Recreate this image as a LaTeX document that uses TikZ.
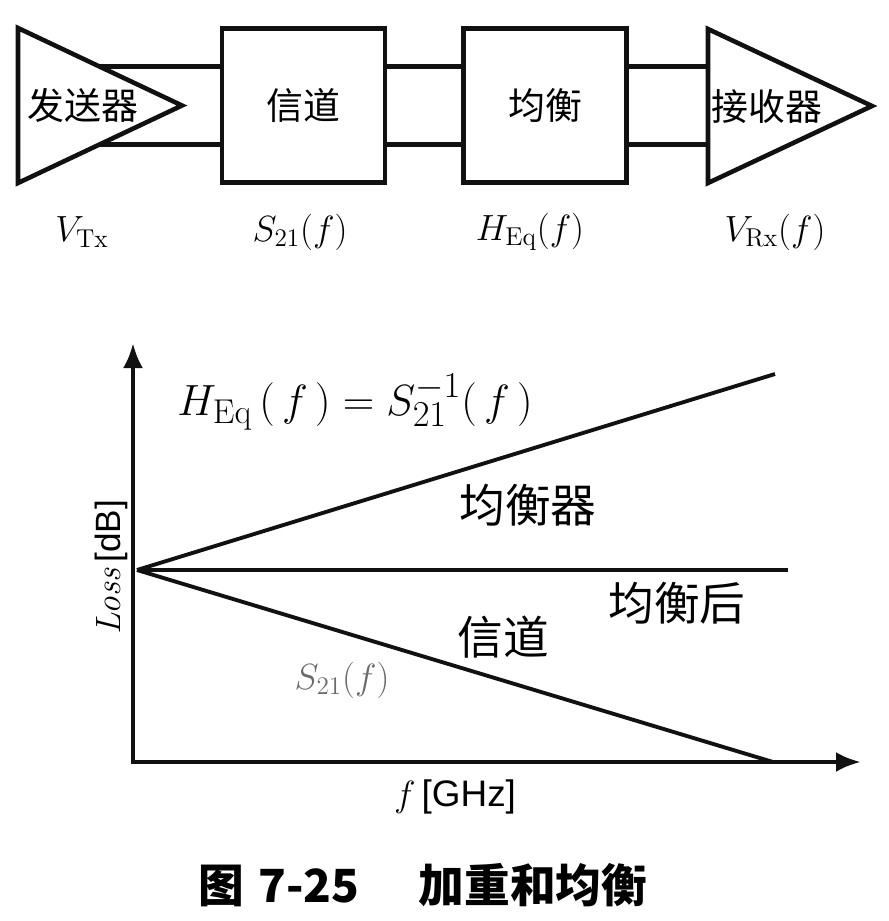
\documentclass[tikz,border=0pt]{standalone}
\usepackage{fontspec}
\setsansfont{Liberation Sans}
\newfontfamily\cjk{Noto Sans CJK SC}
\usetikzlibrary{arrows.meta,calc}
\definecolor{ink}{HTML}{111111}
\definecolor{faded}{HTML}{6A6A6A}

\begin{document}
\begin{tikzpicture}[x=0.02cm,y=-0.02cm,
          blk/.style={draw=ink,line width=2.6pt,minimum width=3.26cm,minimum height=3.08cm,
            font=\cjk\fontsize{21}{24}\selectfont},
          wire/.style={ink,line width=2.6pt},
          amp/.style={draw=ink,line width=2.6pt,line join=miter},
          lbl/.style={font=\fontsize{21}{24}\selectfont},
          curve/.style={ink,line width=2.2pt},
          axis/.style={ink,line width=2.6pt,{Latex[length=0.5cm,width=0.4cm]}-{Latex[length=0.5cm,width=0.4cm]}},
          cjklbl/.style={font=\cjk\fontsize{26}{30}\selectfont}]
        \useasboundingbox (0,0) rectangle (889,921);
        % transmitter -> channel -> equalizer -> receiver
        \coordinate (tx1) at (18,28);
        \coordinate (tx2) at (182,105.5);
        \coordinate (tx3) at (18,183);
        \coordinate (rx1) at (708,29);
        \coordinate (rx2) at (872,106);
        \coordinate (rx3) at (708,183);
        \coordinate (txu) at ($(tx1)!0.5!(tx2)$);
        \coordinate (txl) at ($(tx3)!0.5!(tx2)$);
        \coordinate (rxu) at (708,66.75);
        \coordinate (rxl) at (708,144.25);
        \draw[amp] (tx1) -- (tx2) -- (tx3) -- cycle;
        \draw[amp] (rx1) -- (rx2) -- (rx3) -- cycle;
        \node[blk] (chan) at (303.5,105.5) {信道};
        \node[blk] (eq)   at (545,105.5) {均衡};
        \node[font=\cjk\fontsize{21}{24}\selectfont] (txt) at (83,105) {发送器};
        \node[font=\cjk\fontsize{21}{24}\selectfont] (rxt) at (767,107) {接收器};
        \draw[wire] (txu) -- (txu-|chan.west);
        \draw[wire] (txl) -- (txl-|chan.west);
        \draw[wire] (txu-|chan.east) -- (txu-|eq.west);
        \draw[wire] (txl-|chan.east) -- (txl-|eq.west);
        \draw[wire] (rxu-|eq.east) -- (rxu);
        \draw[wire] (rxl-|eq.east) -- (rxl);
        \node[lbl] (vtx) at (82,232) {$V_{\mathrm{Tx}}$};
        \node[lbl] (s21) at (300,232) {$S_{21}(f)$};
        \node[lbl] (heq) at (530,232) {$H_{\mathrm{Eq}}(f)$};
        \node[lbl] (vrx) at (775,232) {$V_{\mathrm{Rx}}(f)$};
        % loss vs frequency
        \coordinate (o)     at (133,762);
        \coordinate (ytop)  at (133,343);
        \coordinate (xend)  at (861,762);
        \coordinate (src)   at (137,570);
        \coordinate (eqend) at (775,374);
        \coordinate (flat)  at (788,570);
        \coordinate (chend) at (773,762);
        \draw[axis] (ytop) -- (o) -- (xend);
        \draw[curve] (src) -- (eqend);
        \draw[curve] (src) -- (flat);
        \draw[curve] (src) -- (chend);
        \node[font=\fontsize{28}{32}\selectfont] (law) at (355,402)
          {$H_{\mathrm{Eq}}\,\Bigl(\,f\,\Bigr)=S_{21}^{-1}\Bigl(\,f\,\Bigr)$};
        \node[cjklbl] (eqlbl)   at (528,505) {均衡器};
        \node[cjklbl] (afterlbl) at (677,603) {均衡后};
        \node[cjklbl] (chlbl)   at (503,637) {信道};
        \node[font=\fontsize{22}{26}\selectfont,text=faded] (s21lbl) at (342,680) {$S_{21}\bigl(f\bigr)$};
        \node[font=\fontsize{21}{24}\selectfont] (xlbl) at (455,797) {$f$\,\textsf{[GHz]}};
        \node[font=\fontsize{20}{24}\selectfont,rotate=90] (ylbl) at (111,567) {\textit{Loss}\,\textsf{[dB]}};
        \node[font=\cjk\bfseries\fontsize{26}{30}\selectfont] (cap) at (423,885) {图\hspace{0.3em}7-25\hspace{1.3em}加重和均衡};
      \end{tikzpicture}
\end{document}
